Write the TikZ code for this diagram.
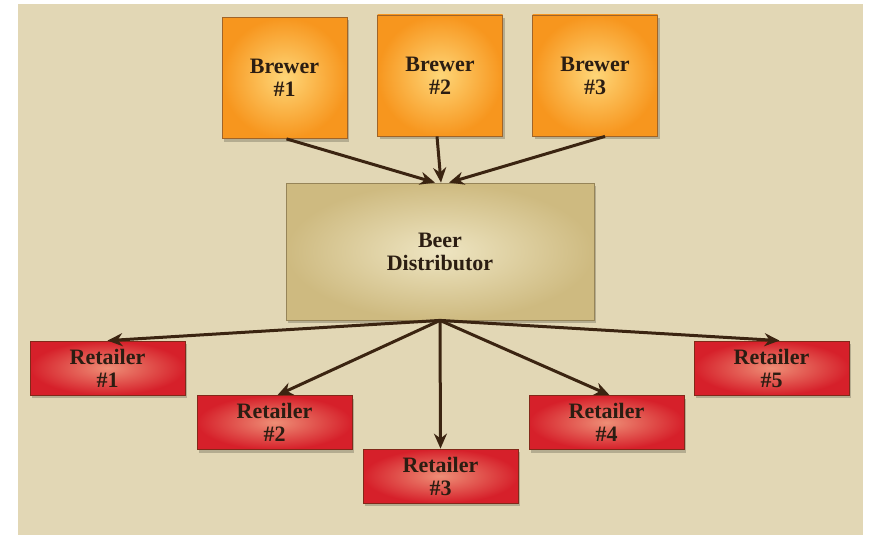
\documentclass[tikz,border=0pt]{standalone}
\usepackage{fontspec}
\setmainfont{Liberation Serif}
\usepackage{tikz}
\usepackage{xcolor}
\usetikzlibrary{arrows.meta,shadows}
\definecolor{paper}{RGB}{226,215,181}
\definecolor{ink}{RGB}{43,29,18}
\definecolor{arrowBrown}{RGB}{59,36,17}
\definecolor{brewerEdge}{RGB}{160,100,40}
\definecolor{distEdge}{RGB}{150,132,88}
\definecolor{retailEdge}{RGB}{130,40,25}
\tikzset{
    base-box/.style = {rectangle, line width=0.8pt, align=center, text=ink, inner sep=0pt,
        font=\fontsize{22}{23}\selectfont\bfseries,
        drop shadow={shadow xshift=2pt, shadow yshift=-3pt, opacity=0.2, fill=black}},
    brewer-box/.style = {base-box, draw=brewerEdge, inner color={rgb,255:red,254;green,214;blue,120}, outer color={rgb,255:red,247;green,150;blue,30},
        minimum width=125pt, minimum height=121pt},
    distributor-box/.style = {base-box, draw=distEdge, inner color={rgb,255:red,238;green,229;blue,194}, outer color={rgb,255:red,206;green,186;blue,128},
        minimum width=308pt, minimum height=137pt},
    retailer-box/.style = {base-box, draw=retailEdge, inner color={rgb,255:red,238;green,142;blue,118}, outer color={rgb,255:red,214;green,32;blue,42},
        minimum width=155pt, minimum height=54pt},
    flow-arrow/.style = {draw=arrowBrown, line width=3pt, -{Stealth[length=15pt, width=13pt]}},
}

\begin{document}
\begin{tikzpicture}[x=1pt, y=-1pt]
\useasboundingbox (0,0) rectangle (869,535);
\fill[white] (0,0) rectangle (869,535);
\fill[paper] (18,4) rectangle (863,535);
\node [brewer-box] (brewer1) at (284.5,78) {Brewer\\\#1};
\node [brewer-box] (brewer2) at (440,75.5) {Brewer\\\#2};
\node [brewer-box] (brewer3) at (595,75.5) {Brewer\\\#3};
\node [distributor-box] (distributor) at (440,251.5) {Beer\\Distributor};
\node [retailer-box] (retailer1) at (107.5,368) {Retailer\\\#1};
\node [retailer-box] (retailer2) at (274.5,422.5) {Retailer\\\#2};
\node [retailer-box] (retailer3) at (440.5,476) {Retailer\\\#3};
\node [retailer-box] (retailer4) at (606.5,422.5) {Retailer\\\#4};
\node [retailer-box] (retailer5) at (771.5,368) {Retailer\\\#5};
\draw [flow-arrow] ([xshift=2pt]brewer1.south) -- ([xshift=-5pt]distributor.north);
\draw [flow-arrow] ([xshift=-3pt]brewer2.south) -- ([xshift=1pt]distributor.north);
\draw [flow-arrow] ([xshift=10pt]brewer3.south) -- ([xshift=9pt]distributor.north);
\draw [flow-arrow] (distributor.south) -- (retailer1.north);
\draw [flow-arrow] (distributor.south) -- ([xshift=3pt]retailer2.north);
\draw [flow-arrow] (distributor.south) -- (retailer3.north);
\draw [flow-arrow] (distributor.south) -- ([xshift=3pt]retailer4.north);
\draw [flow-arrow] (distributor.south) -- ([xshift=8pt]retailer5.north);
\end{tikzpicture}
\end{document}
